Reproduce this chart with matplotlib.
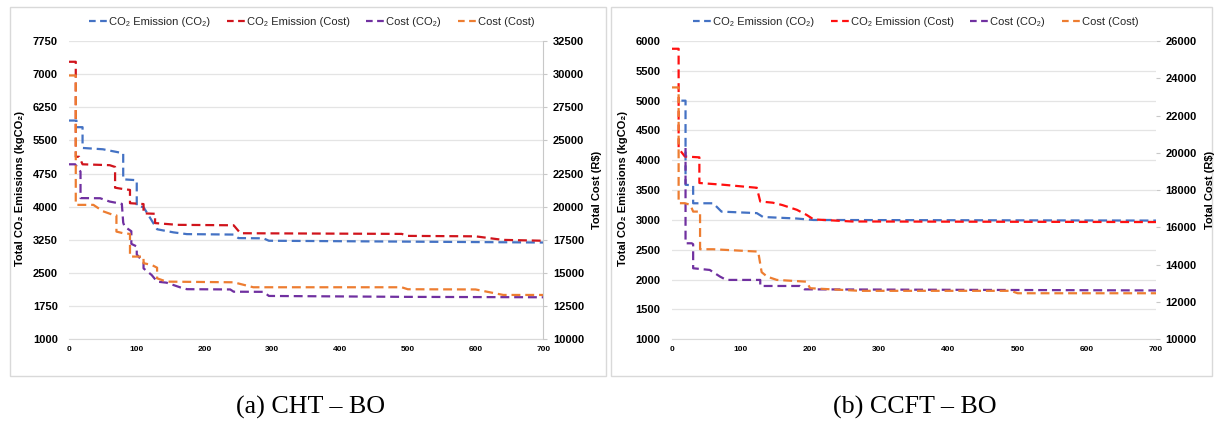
import matplotlib
matplotlib.use("Agg")
import matplotlib.pyplot as plt
from matplotlib.lines import Line2D
from matplotlib.patches import Rectangle

plt.rcParams['font.family'] = ['Liberation Sans', 'DejaVu Sans']

# ---- (a) CHT - BO ----
blue_a_x = [0, 11, 11, 20, 20, 50, 80, 80, 100, 100, 110, 130, 154, 174, 243, 250, 287, 295, 500, 700]
blue_a_y = [5950, 5950, 5800, 5800, 5330, 5300, 5210, 4620, 4600, 4020, 3990, 3490, 3420, 3380, 3370, 3290, 3285, 3230, 3210, 3190]
red_a_x = [0, 10, 10, 15, 20, 60, 68, 68, 80, 90, 90, 100, 110, 110, 127, 127, 160, 243, 253, 491, 500, 600, 640, 700]
red_a_y = [7280, 7280, 5130, 5130, 4960, 4940, 4900, 4430, 4400, 4380, 4080, 4070, 4060, 3850, 3840, 3630, 3590, 3580, 3400, 3385, 3340, 3330, 3250, 3230]
purple_a_x = [0, 9, 17, 17, 46, 60, 78, 80, 82, 92, 92, 100, 100, 110, 110, 122, 130, 144, 164, 174, 238, 243, 287, 295, 500, 700]
purple_a_y = [23200, 23200, 22650, 20650, 20640, 20390, 20215, 18800, 18500, 18150, 17200, 17000, 16400, 15800, 15350, 14850, 14350, 14270, 13920, 13780, 13760, 13590, 13580, 13270, 13200, 13170]
orange_a_x = [0, 10, 10, 36, 50, 65, 70, 70, 80, 90, 90, 110, 110, 122, 130, 130, 144, 243, 272, 491, 500, 600, 641, 700]
orange_a_y = [29900, 29900, 20140, 20140, 19660, 19385, 19350, 18125, 18000, 17950, 16240, 16240, 15740, 15610, 15400, 14600, 14350, 14300, 13925, 13925, 13775, 13760, 13345, 13345]

# ---- (b) CCFT - BO ----
blue_b_x = [14, 20, 20, 31, 31, 60, 72, 123, 132, 180, 205, 700]
blue_b_y = [5000, 5000, 3590, 3580, 3280, 3280, 3140, 3115, 3050, 3025, 3000, 2990]
red_b_x = [0, 10, 10, 19, 40, 40, 75, 123, 128, 146, 160, 181, 195, 205, 260, 700]
red_b_y = [5870, 5870, 4200, 4064, 4050, 3620, 3590, 3540, 3310, 3290, 3250, 3170, 3085, 3010, 2975, 2965]
purple_b_x = [20, 20, 29, 31, 31, 55, 70, 79, 128, 128, 185, 192, 700]
purple_b_y = [20260, 15150, 15150, 15100, 13810, 13720, 13360, 13185, 13185, 12860, 12860, 12680, 12620]
orange_b_x = [0, 10, 10, 19, 27, 31, 41, 41, 60, 125, 130, 138, 152, 195, 200, 272, 490, 500, 700]
orange_b_y = [23510, 23510, 17300, 17300, 17210, 16850, 16850, 14830, 14830, 14704, 13600, 13360, 13185, 13090, 12740, 12600, 12600, 12470, 12470]

x_ticks = [0, 100, 200, 300, 400, 500, 600, 700]
left_ticks_a = [1000, 1750, 2500, 3250, 4000, 4750, 5500, 6250, 7000, 7750]
right_ticks_a = [10000, 12500, 15000, 17500, 20000, 22500, 25000, 27500, 30000, 32500]
left_ticks_b = [1000, 1500, 2000, 2500, 3000, 3500, 4000, 4500, 5000, 5500, 6000]
right_ticks_b = [10000, 12000, 14000, 16000, 18000, 20000, 22000, 24000, 26000]

labels = ["CO\u2082 Emission (CO\u2082)", "CO\u2082 Emission (Cost)", "Cost (CO\u2082)", "Cost (Cost)"]
BLUE, PURPLE, ORANGE = "#4472c4", "#7030a0", "#ed7d31"
DASH = (4.0, 2.2)

fig = plt.figure(figsize=(12.17, 4.23), dpi=100)
W, H = 1217, 423


def fx(px):
    return px / W


def fy(py):
    return 1 - py / H


def panel(x0, x1, series, lt, rt, red, caption, box):
    ax = fig.add_axes([fx(x0), fy(339.3), fx(x1 - x0), fy(41) - fy(339.3)])
    ax2 = ax.twinx()
    (bx, by), (rx, ry), (px, py), (ox, oy) = series
    ax.plot(bx, by, color=BLUE, lw=1.6, dashes=DASH)
    ax.plot(rx, ry, color=red, lw=1.6, dashes=DASH)
    ax2.plot(px, py, color=PURPLE, lw=1.6, dashes=DASH)
    ax2.plot(ox, oy, color=ORANGE, lw=1.6, dashes=DASH)

    ax.set_xlim(0, 700)
    ax.set_ylim(lt[0], lt[-1])
    ax2.set_ylim(rt[0], rt[-1])
    ax.set_xticks(x_ticks)
    ax.set_yticks(lt)
    ax2.set_yticks(rt)
    ax.yaxis.grid(True, color="#e4e4e4", lw=0.9)
    ax.set_axisbelow(True)
    for a in (ax, ax2):
        for s in a.spines.values():
            s.set_visible(False)
    ax.spines['bottom'].set_visible(True)
    ax.spines['bottom'].set_color("#d9d9d9")
    ax.tick_params(axis='x', length=0, labelsize=6, pad=5)
    ax.tick_params(axis='y', length=0, labelsize=8, pad=8)
    ax2.tick_params(axis='y', length=3, color="#c8c8c8", labelsize=8, pad=4)
    for t in ax.get_xticklabels() + ax.get_yticklabels() + ax2.get_yticklabels():
        t.set_fontweight('bold')
    if box == 0:
        ax2.spines['right'].set_visible(True)
        ax2.spines['right'].set_color("#c8c8c8")

    # labels
    fig.text(fx(x0 - 49), fy(188), "Total CO\u2082 Emissions (kgCO\u2082)", rotation=90,
             ha='center', va='center', fontsize=8, fontweight='bold')
    fig.text(fx(x1 + 54), fy(190), "Total Cost (R\\$)", rotation=90,
             ha='center', va='center', fontsize=8, fontweight='bold')

    handles = [Line2D([], [], color=c, lw=1.6, dashes=(3.0, 2.0)) for c in (BLUE, red, PURPLE, ORANGE)]
    bx0, bx1 = (9.5, 606) if box == 0 else (611.5, 1212)
    fig.legend(handles, labels, loc='center', bbox_to_anchor=(fx((bx0 + bx1) / 2 + 4), fy(22)),
               ncol=4, frameon=False, fontsize=8, handlelength=1.6, handletextpad=0.2,
               columnspacing=1.5, labelcolor="#262626")
    fig.add_artist(Rectangle((fx(bx0), fy(376)), fx(bx1 - bx0), fy(7.5) - fy(376),
                             transform=fig.transFigure, fill=False, edgecolor="#d9d9d9", lw=1))
    fig.text(fx((bx0 + bx1) / 2 + 3), fy(407), caption, ha='center', va='center',
             fontsize=18.7, family='Liberation Serif')


panel(69, 543.3,
      [(blue_a_x, blue_a_y), (red_a_x, red_a_y), (purple_a_x, purple_a_y), (orange_a_x, orange_a_y)],
      left_ticks_a, right_ticks_a, "#d0141c", "(a) CHT \u2013 BO", 0)
panel(671.7, 1156,
      [(blue_b_x, blue_b_y), (red_b_x, red_b_y), (purple_b_x, purple_b_y), (orange_b_x, orange_b_y)],
      left_ticks_b, right_ticks_b, "#ff1010", "(b) CCFT \u2013 BO", 1)

fig.savefig("out.png", dpi=100, facecolor="white")
